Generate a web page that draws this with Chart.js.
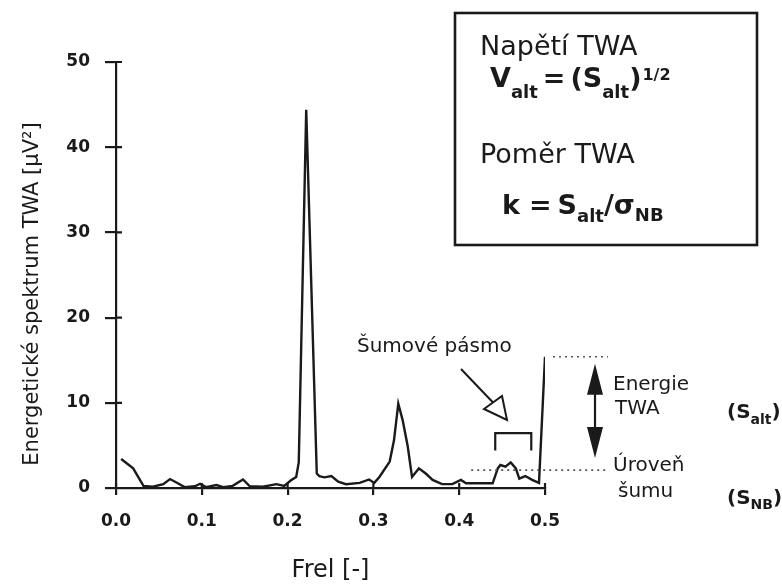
<!DOCTYPE html>
<html><head><meta charset="utf-8">
<script src="https://cdn.jsdelivr.net/npm/chart.js@4"></script>
<style>html,body{margin:0;padding:0;background:#fff}canvas{display:block}</style>
</head><body>
<canvas id="c" width="782" height="584"></canvas>
<script>
// ---- data ----
const freq  = [0.006, 0.020, 0.032, 0.043, 0.055, 0.063, 0.072, 0.080, 0.092, 0.098,
               0.105, 0.117, 0.125, 0.136, 0.148, 0.156, 0.171, 0.187, 0.196, 0.204,
               0.210, 0.213, 0.2217, 0.234, 0.237, 0.243, 0.251, 0.259, 0.268, 0.284,
               0.295, 0.301, 0.307, 0.319, 0.324, 0.329, 0.334, 0.340, 0.345, 0.353,
               0.361, 0.369, 0.380, 0.392, 0.402, 0.408, 0.423, 0.439, 0.445, 0.448,
               0.454, 0.460, 0.466, 0.470, 0.477, 0.485, 0.493, 0.500];
const power = [3.4, 2.3, 0.25, 0.15, 0.45, 1.05, 0.55, 0.1, 0.2, 0.5,
               0.1, 0.35, 0.1, 0.25, 1.0, 0.2, 0.15, 0.45, 0.25, 0.9,
               1.3, 3.0, 44.4, 1.7, 1.4, 1.25, 1.4, 0.75, 0.45, 0.6,
               1.0, 0.6, 1.3, 3.1, 5.6, 9.9, 8.0, 4.9, 1.3, 2.3,
               1.7, 0.95, 0.45, 0.45, 0.95, 0.55, 0.55, 0.55, 2.3, 2.7,
               2.5, 3.0, 2.3, 1.1, 1.4, 0.95, 0.6, 15.4];
const xTickValues = [0, 0.1, 0.2, 0.3, 0.4, 0.5];
const xTickLabels = ['0.0', '0.1', '0.2', '0.3', '0.4', '0.5'];
const yTickValues = [0, 10, 20, 30, 40, 50];
const yTickLabels = ['0', '10', '20', '30', '40', '50'];
const noiseLevel = 2.1;            // Úroveň šumu (S_NB)
const noiseBand = [0.442, 0.484];  // Šumové pásmo
const xTitle = 'Frel [-]';
const yTitle = 'Energetické spektrum TWA [µV²]';

const FONT = '"DejaVu Sans", Arial, sans-serif';
const INK = '#1a1a1a';

function f(size, bold) { return (bold ? 'bold ' : '') + size + 'px ' + FONT; }

function rich(ctx, x, base, parts) {
  let cx = x;
  for (const p of parts) {
    ctx.font = f(p.s, p.b);
    cx += (p.g || 0);
    ctx.fillText(p.t, cx, base + (p.dy || 0));
    cx += ctx.measureText(p.t).width;
  }
}

const decor = {
  id: 'decor',
  afterDraw(chart) {
    const ctx = chart.ctx;
    const xs = chart.scales.x, ys = chart.scales.y;
    const X = v => xs.getPixelForValue(v), Y = v => ys.getPixelForValue(v);
    const L = chart.chartArea.left, B = chart.chartArea.bottom;
    ctx.save();
    ctx.strokeStyle = INK; ctx.fillStyle = INK; ctx.lineWidth = 2.2;
    // inner parts of the crossing tick marks
    ctx.beginPath();
    yTickValues.forEach(v => { ctx.moveTo(L, Y(v)); ctx.lineTo(L + 6, Y(v)); });
    xTickValues.forEach(v => { ctx.moveTo(X(v), B); ctx.lineTo(X(v), B - 5); });
    ctx.stroke();

    // axis titles
    ctx.textBaseline = 'alphabetic';
    ctx.font = f(24, false);
    ctx.textAlign = 'center';
    ctx.fillText(xTitle, (xs.left + xs.right) / 2, 577);
    ctx.save();
    ctx.translate(33, 294);
    ctx.rotate(-Math.PI / 2);
    ctx.textBaseline = 'middle';
    ctx.font = f(21, false);
    ctx.fillText(yTitle, 0, 0);
    ctx.restore();
    ctx.textAlign = 'left';

    // formula box
    ctx.lineWidth = 2.6;
    ctx.strokeRect(455, 13, 302, 232);
    ctx.font = f(27, false);
    ctx.fillText('Napětí TWA', 480, 55);
    ctx.fillText('Poměr TWA', 480, 163);
    rich(ctx, 490, 87, [
      {t: 'V', s: 27, b: true},
      {t: 'alt', s: 18, b: true, dy: 11},
      {t: '=', s: 27, b: true, g: 5},
      {t: '(S', s: 27, b: true, g: 5},
      {t: 'alt', s: 18, b: true, dy: 11},
      {t: ')', s: 27, b: true},
      {t: '1/2', s: 16, b: true, dy: -7, g: 1}
    ]);
    rich(ctx, 502, 214, [
      {t: 'k', s: 27, b: true},
      {t: '=', s: 27, b: true, g: 9},
      {t: 'S', s: 27, b: true, g: 6},
      {t: 'alt', s: 18, b: true, dy: 8},
      {t: '/', s: 27, b: true},
      {t: 'σ', s: 27, b: true},
      {t: 'NB', s: 18, b: true, dy: 7}
    ]);

    // noise band annotation
    ctx.font = f(20, false);
    ctx.fillText('Šumové pásmo', 357, 352);
    ctx.lineWidth = 2.2;
    ctx.beginPath();
    ctx.moveTo(X(noiseBand[0]), Y(4.4));
    ctx.lineTo(X(noiseBand[0]), Y(6.45));
    ctx.lineTo(X(noiseBand[1]), Y(6.45));
    ctx.lineTo(X(noiseBand[1]), Y(4.4));
    ctx.stroke();
    // hollow arrow
    ctx.lineWidth = 2;
    ctx.beginPath();
    ctx.moveTo(461, 369); ctx.lineTo(493, 402.5); ctx.stroke();
    ctx.fillStyle = '#fff';
    ctx.beginPath();
    ctx.moveTo(484, 409); ctx.lineTo(502, 396); ctx.lineTo(507, 420); ctx.closePath();
    ctx.fill(); ctx.stroke();
    ctx.fillStyle = INK;

    // dotted reference lines
    const top = power[power.length - 1];
    ctx.save();
    ctx.strokeStyle = '#555';
    ctx.lineWidth = 1.6;
    ctx.setLineDash([2, 4]);
    ctx.beginPath();
    ctx.moveTo(553, Y(top)); ctx.lineTo(608, Y(top));
    ctx.moveTo(X(0.414), Y(noiseLevel)); ctx.lineTo(608, Y(noiseLevel));
    ctx.stroke();
    ctx.restore();

    // double arrow
    const ax = 595, at = Y(top) + 7, ab = Y(noiseLevel) - 12;
    ctx.lineWidth = 2.2;
    ctx.beginPath(); ctx.moveTo(ax, at + 20); ctx.lineTo(ax, ab - 20); ctx.stroke();
    ctx.beginPath();
    ctx.moveTo(ax, at); ctx.lineTo(ax - 8, at + 31); ctx.lineTo(ax + 8, at + 31); ctx.closePath();
    ctx.moveTo(ax, ab); ctx.lineTo(ax - 8, ab - 31); ctx.lineTo(ax + 8, ab - 31); ctx.closePath();
    ctx.fill();

    // right-hand labels
    ctx.font = f(20, false);
    ctx.fillText('Energie', 613, 390);
    ctx.fillText('TWA', 615, 414);
    ctx.fillText('Úroveň', 613, 471);
    ctx.fillText('šumu', 618, 497);
    rich(ctx, 727, 418, [
      {t: '(S', s: 20, b: true},
      {t: 'alt', s: 14, b: true, dy: 6},
      {t: ')', s: 20, b: true}
    ]);
    rich(ctx, 727, 504, [
      {t: '(S', s: 20, b: true},
      {t: 'NB', s: 14, b: true, dy: 5},
      {t: ')', s: 20, b: true}
    ]);
    ctx.restore();
  }
};

new Chart(document.getElementById('c').getContext('2d'), {
  type: 'line',
  data: {
    datasets: [{
      data: freq.map((x, i) => ({x: x, y: power[i]})),
      borderColor: INK, borderWidth: 2.4, pointRadius: 0, tension: 0, fill: false
    }]
  },
  options: {
    responsive: false, animation: false, devicePixelRatio: 1,
    layout: {padding: {left: 0, right: 237, top: 62, bottom: 0}},
    plugins: {legend: {display: false}, tooltip: {enabled: false}},
    scales: {
      x: {
        type: 'linear', min: 0, max: 0.5,
        afterBuildTicks: s => { s.ticks = xTickValues.map(v => ({value: v})); },
        afterFit: s => { s.height = 96; },
        ticks: {callback: (v, i) => xTickLabels[i], font: {family: FONT, size: 17, weight: 'bold'},
                color: INK, padding: 16, maxRotation: 0, autoSkip: false},
        grid: {display: true, drawOnChartArea: false, drawTicks: true, tickLength: 7, color: INK, lineWidth: 2.2},
        border: {display: true, color: INK, width: 2.2}
      },
      y: {
        type: 'linear', min: 0, max: 50,
        afterBuildTicks: s => { s.ticks = yTickValues.map(v => ({value: v})); },
        afterFit: s => { s.width = 116; },
        ticks: {callback: (v, i) => yTickLabels[i], font: {family: FONT, size: 17, weight: 'bold'},
                color: INK, padding: 15, autoSkip: false},
        grid: {display: true, drawOnChartArea: false, drawTicks: true, tickLength: 11, color: INK, lineWidth: 2.2},
        border: {display: true, color: INK, width: 2.2}
      }
    }
  },
  plugins: [decor]
});
</script>
</body></html>
